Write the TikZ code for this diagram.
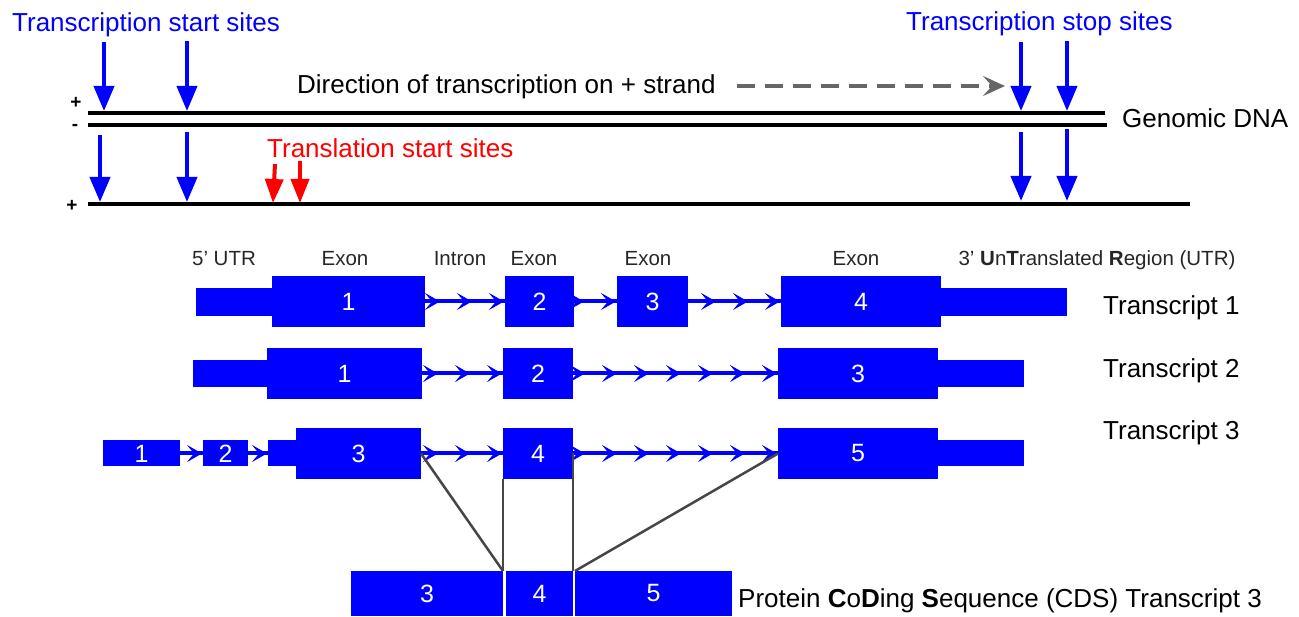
\documentclass[tikz,border=0pt]{standalone}
\usepackage{fontspec}
\setmainfont{Liberation Sans}
\usetikzlibrary{arrows.meta,decorations.markings}
\definecolor{pureblue}{RGB}{0,0,255}
\definecolor{purered}{RGB}{255,0,0}
\definecolor{dashgray}{RGB}{102,102,102}
\definecolor{splicegray}{RGB}{70,70,70}
\tikzset{
  big/.style={font=\fontsize{26}{30}\selectfont, inner sep=0pt},
  small/.style={font=\fontsize{20.5}{24}\selectfont, inner sep=0pt, text=black!85},
  sign/.style={font=\fontsize{19}{22}\selectfont\bfseries, inner sep=0pt},
  dnaline/.style={line width=4pt, black},
  bluearr/.style={pureblue, line width=4pt, -{Triangle[length=25pt,width=20pt]}},
  redarr/.style={purered, line width=4pt, -{Triangle[length=24pt,width=18pt]}},
  exon/.style={rectangle, fill=pureblue, draw=none, inner sep=0pt, outer sep=0pt,
    minimum height=51pt, text=white, font=\fontsize{25}{30}\selectfont},
  utr/.style={rectangle, fill=pureblue, draw=none, inner sep=0pt, outer sep=0pt,
    minimum height=28pt},
  smallexon/.style={rectangle, fill=pureblue, draw=none, inner sep=0pt, outer sep=0pt,
    minimum height=26pt, text=white, font=\fontsize{25}{30}\selectfont},
  cds/.style={rectangle, fill=pureblue, draw=none, inner sep=0pt, outer sep=0pt,
    minimum height=45pt, text=white, font=\fontsize{25}{30}\selectfont},
  intron/.style={pureblue, line width=4pt,
    postaction={decorate, decoration={markings,
      mark=between positions 1pt and 1 step 32pt with
        {\arrowreversed{Stealth[length=15pt,width=17pt,inset=7pt]}}}}},
  splice/.style={splicegray, line width=2.5pt},
}
\begin{document}
\begin{tikzpicture}[x=1pt,y=-1pt]
\useasboundingbox (0,0) rectangle (1299,617);

% ---------- Genomic DNA ----------
\coordinate (l1s) at (88,113);  \coordinate (l1e) at (1105,113);
\coordinate (l2s) at (88,125);  \coordinate (l2e) at (1107,125);
\coordinate (l3s) at (88,204);  \coordinate (l3e) at (1190,204);
\draw[dnaline] (l1s) -- (l1e);
\draw[dnaline] (l2s) -- (l2e);
\draw[dnaline] (l3s) -- (l3e);

\node[sign] (plus1) at (76,103) {+};
\node[sign] (minus1) at (75,127) {-};
\node[sign] (plus2) at (72,206) {+};

\node[big, text=pureblue, anchor=base west] (tss) at (12,32) {Transcription start sites};
\node[big, text=pureblue, anchor=base west] (tst) at (906,31) {Transcription stop sites};
\node[big, anchor=base west] (dir) at (297,94) {Direction of transcription on + strand};
\node[big, anchor=base west] (gdna) at (1122,128) {Genomic DNA};
\node[big, text=purered, anchor=base west] (tls) at (267,158) {Translation start sites};

% direction arrow
\coordinate (d1) at (737,86); \coordinate (d2) at (1005,86);
\draw[dashgray, line width=4pt, dash pattern=on 18pt off 10pt,
  -{Stealth[length=22pt,width=20pt,inset=9pt]}] (d1) -- (d2);

% blue arrows (upper)
\coordinate (a1s) at (104,42);  \coordinate (a1e) at (104,111);
\coordinate (a2s) at (187,41);  \coordinate (a2e) at (187,111);
\coordinate (a3s) at (1021,42); \coordinate (a3e) at (1021,111);
\coordinate (a4s) at (1067,41); \coordinate (a4e) at (1067,111);
\draw[bluearr] (a1s) -- (a1e);
\draw[bluearr] (a2s) -- (a2e);
\draw[bluearr] (a3s) -- (a3e);
\draw[bluearr] (a4s) -- (a4e);
% blue arrows (lower)
\coordinate (b1s) at (100,135);  \coordinate (b1e) at (100,202);
\coordinate (b2s) at (187,132);  \coordinate (b2e) at (187,202);
\coordinate (b3s) at (1021,132); \coordinate (b3e) at (1021,201);
\coordinate (b4s) at (1067,129); \coordinate (b4e) at (1067,201);
\draw[bluearr] (b1s) -- (b1e);
\draw[bluearr] (b2s) -- (b2e);
\draw[bluearr] (b3s) -- (b3e);
\draw[bluearr] (b4s) -- (b4e);
% red arrows
\coordinate (r1s) at (275,164); \coordinate (r1e) at (273,203);
\coordinate (r2s) at (300,161); \coordinate (r2e) at (300,203);
\draw[redarr] (r1s) -- (r1e);
\draw[redarr] (r2s) -- (r2e);

% ---------- column labels ----------
\node[small, anchor=base] (lab5) at (224,266) {5' UTR};
\node[small, anchor=base] (labx1) at (345,266) {Exon};
\node[small, anchor=base] (labi) at (460,266) {Intron};
\node[small, anchor=base] (labx2) at (534,266) {Exon};
\node[small, anchor=base] (labx3) at (648,266) {Exon};
\node[small, anchor=base] (labx4) at (856,266) {Exon};
\node[small, anchor=base] (lab3) at (1097,266) {3' \textbf{U}n\textbf{T}ranslated \textbf{R}egion (UTR)};

% ---------- Transcript 1 ----------
\node[utr, minimum width=76pt] (t1u1) at (234,302) {};
\node[utr, minimum width=126pt] (t1u2) at (1004,302) {};
\node[exon, minimum width=153pt] (t1e1) at (348.5,301.5) {1};
\node[exon, minimum width=69pt] (t1e2) at (539.5,301.5) {2};
\node[exon, minimum width=71pt] (t1e3) at (652.5,301.5) {3};
\node[exon, minimum width=160pt] (t1e4) at (861,301.5) {4};
\draw[intron] (t1e2.west) -- (t1e1.east);
\draw[intron] (t1e3.west) -- (t1e2.east);
\draw[intron] (t1e4.west) -- (t1e3.east);
\node[big, anchor=base west] (tr1) at (1103,315) {Transcript 1};

% ---------- Transcript 2 ----------
\node[utr, minimum width=74pt, minimum height=27pt] (t2u1) at (230,373.5) {};
\node[utr, minimum width=86pt, minimum height=27pt] (t2u2) at (981,373.5) {};
\node[exon, minimum width=155pt] (t2e1) at (344.5,373.5) {1};
\node[exon, minimum width=70pt] (t2e2) at (538,373.5) {2};
\node[exon, minimum width=160pt] (t2e3) at (858,373.5) {3};
\draw[intron] (t2e2.west) -- (t2e1.east);
\draw[intron] (t2e3.west) -- (t2e2.east);
\node[big, anchor=base west] (tr2) at (1103,378) {Transcript 2};

% ---------- Transcript 3 ----------
\node[smallexon, minimum width=77pt] (t3e1) at (141.5,453.5) {1};
\node[smallexon, minimum width=45pt] (t3e2) at (225.5,453.5) {2};
\node[utr, minimum width=28pt, minimum height=26pt] (t3u1) at (282,453.5) {};
\node[utr, minimum width=86pt, minimum height=26pt] (t3u2) at (981,453.5) {};
\node[exon, minimum width=125pt] (t3e3) at (358.5,453.5) {3};
\node[exon, minimum width=70pt] (t3e4) at (538,453.5) {4};
\node[exon, minimum width=160pt] (t3e5) at (858,453.5) {5};
\draw[intron] (t3e2.west) -- (t3e1.east);
\draw[intron] (t3u1.west) -- (t3e2.east);
\draw[intron] (t3e4.west) -- (t3e3.east);
\draw[intron] (t3e5.west) -- (t3e4.east);
\node[big, anchor=base west] (tr3) at (1103,440) {Transcript 3};

% ---------- CDS ----------
\node[cds, minimum width=152pt] (c3) at (427,593.5) {3};
\node[cds, minimum width=67pt] (c4) at (539.5,593.5) {4};
\node[cds, minimum width=157pt] (c5) at (653.5,593.5) {5};
\node[big, anchor=base west] (cdsl) at (738,607)
  {Protein \textbf{C}o\textbf{D}ing \textbf{S}equence (CDS) Transcript 3};

% splice lines
\draw[splice] (t3e3.east) -- (c3.north east);
\draw[splice] (t3e4.south west) -- (c3.north east);
\draw[splice] (t3e4.east) -- (c4.north east);
\draw[splice] (t3e5.west) -- (c5.north west);
\end{tikzpicture}
\end{document}
